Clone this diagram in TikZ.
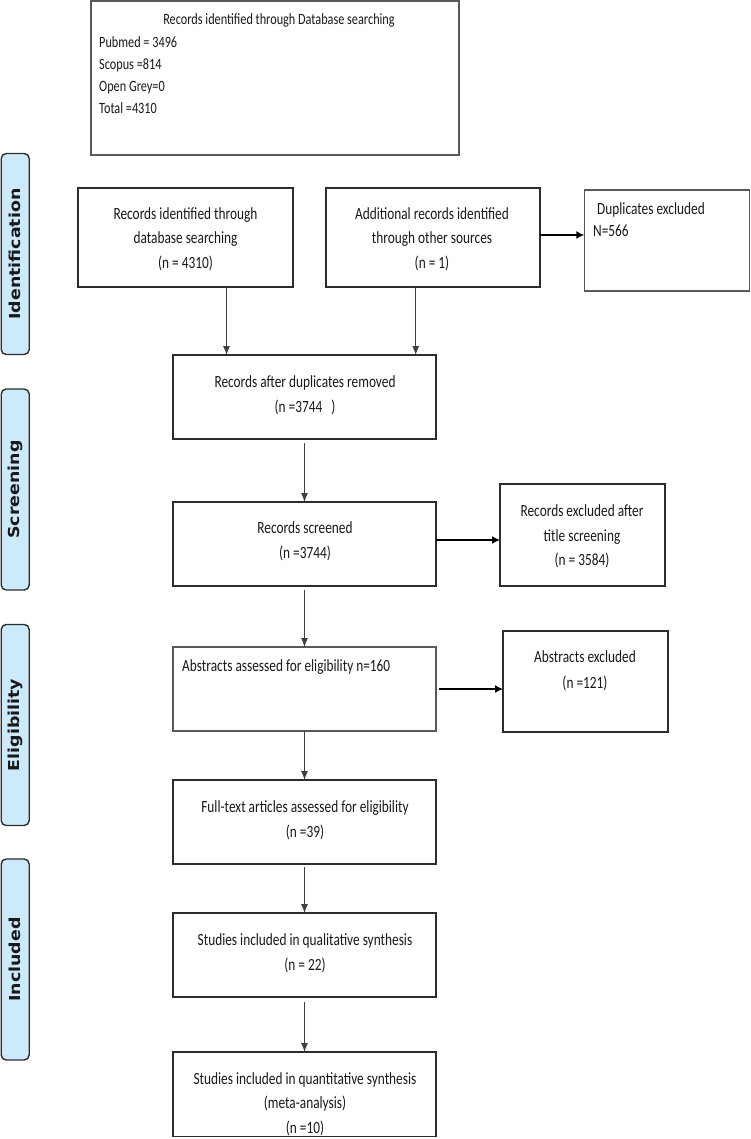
\documentclass[tikz,border=0pt]{standalone}
\usepackage{fontspec}
\setmainfont{Carlito}[FakeStretch=0.78]
\newfontfamily\tabfamily{DejaVu Sans}
\usetikzlibrary{arrows.meta}
\definecolor{tabblue}{RGB}{204,234,252}
\definecolor{ink}{RGB}{25,25,25}
\definecolor{edge}{RGB}{45,45,45}
\begin{document}
\begin{tikzpicture}[x=1pt,y=-1pt,
  box/.style={draw=edge, line width=1.1pt, inner sep=0pt, outer sep=0pt, fill=white},
  tabbox/.style={draw=edge, line width=1.4pt, fill=tabblue, rounded corners=5pt, inner sep=0pt,
    rotate=90, minimum width=201pt, minimum height=28pt,
    font=\tabfamily\bfseries\fontsize{17.4}{20}\selectfont, text=ink},
  tb/.style={inner sep=0pt, anchor=base, text=ink, font=\fontsize{17.1}{24.5}\selectfont},
  tbl/.style={tb, anchor=base west},
  ts/.style={inner sep=0pt, anchor=base, text=ink, font=\fontsize{15.7}{22}\selectfont},
  tsl/.style={ts, anchor=base west},
  varr/.style={draw=black!75, line width=0.9pt, -{Latex[length=9pt,width=7pt]}},
  harr/.style={draw=black, line width=1.4pt, -{Latex[length=8pt,width=8pt]}}
]
\useasboundingbox (0,0) rectangle (751,1139);

% phase tabs
\node[tabbox] (tid) at (15.2,254) {\scalebox{1}[0.87]{Identification}};
\node[tabbox] (tsc) at (15.2,489.5) {\scalebox{1}[0.87]{Screening}};
\node[tabbox] (tel) at (15.2,725) {\scalebox{1}[0.87]{Eligibility}};
\node[tabbox] (tin) at (15.2,959.5) {\scalebox{1}[0.87]{Included}};

% boxes
\node[box, draw=black!65, minimum width=368pt, minimum height=154pt] (top) at (275,78) {};
\node[box, minimum width=215pt, minimum height=99pt] (b1) at (185.5,237.5) {};
\node[box, minimum width=214pt, minimum height=99pt] (b2) at (433,237.5) {};
\node[box, draw=black!65, minimum width=165pt, minimum height=101pt] (dup) at (666.8,240.5) {};
\node[box, minimum width=263pt, minimum height=84pt] (after) at (304.5,397) {};
\node[box, minimum width=263pt, minimum height=84pt] (scr) at (304.5,544) {};
\node[box, minimum width=165pt, minimum height=102pt] (excl) at (582.5,535) {};
\node[box, draw=black!65, minimum width=263pt, minimum height=84pt] (abs) at (304.5,689) {};
\node[box, minimum width=165pt, minimum height=101pt] (excl2) at (585.5,681.5) {};
\node[box, minimum width=263pt, minimum height=84pt] (full) at (304.5,822) {};
\node[box, minimum width=263pt, minimum height=84pt] (qual) at (304.5,955) {};
\node[box, minimum width=263pt, minimum height=84.5pt] (quant) at (304.5,1094.25) {};

% texts
\node[ts] (topt) at (279,25) {Records identified through Database searching};
\node[tsl] (pub) at (99,47.5) {Pubmed = 3496};
\node[tsl] (sco) at (99,69.5) {Scopus =814};
\node[tsl] (ogr) at (99,91.5) {Open Grey=0};
\node[tsl] (tot) at (99,113.5) {Total =4310};

\node[tb] (b1a) at (185.5,219.5) {Records identified through};
\node[tb] (b1b) at (185.5,244) {database searching};
\node[tb] (b1c) at (185.5,268.5) {(n = 4310)};

\node[tb] (b2a) at (432,219.5) {Additional records identified};
\node[tb] (b2b) at (432,244) {through other sources};
\node[tb] (b2c) at (432,268.5) {(n = 1)};

\node[tbl] (dupa) at (597,214.5) {Duplicates excluded};
\node[tbl] (dupb) at (593,237) {N=566};

\node[tb] (afta) at (305,387.5) {Records after duplicates removed};
\node[tb] (aftb) at (305,412.5) {(n =3744\hspace{9pt})};

\node[tb] (scra) at (305,533.5) {Records screened};
\node[tb] (scrb) at (305,558.5) {(n =3744)};

\node[tb] (exa) at (582,516.5) {Records excluded after};
\node[tb] (exb) at (582,541) {title screening};
\node[tb] (exc) at (582,565.5) {(n = 3584)};

\node[tbl] (absa) at (182,671.5) {Abstracts assessed for eligibility n=160};

\node[tb] (ex2a) at (585,662.5) {Abstracts excluded};
\node[tb] (ex2b) at (585,688.5) {(n =121)};

\node[tb] (fula) at (305,812.5) {Full-text articles assessed for eligibility};
\node[tb] (fulb) at (305,837.5) {(n =39)};

\node[tb] (qla) at (305,945.5) {Studies included in qualitative synthesis};
\node[tb] (qlb) at (305,970.5) {(n = 22)};

\node[tb] (qna) at (305,1084) {Studies included in quantitative synthesis};
\node[tb] (qnb) at (305,1108.5) {(meta-analysis)};
\node[tb] (qnc) at (305,1133) {(n =10)};

% connectors
\draw[varr] ([xshift=41pt]b1.south) -- ([xshift=41pt]b1.south |- after.north);
\draw[varr] ([xshift=-17.3pt]b2.south) -- ([xshift=-17.3pt]b2.south |- after.north);
\draw[harr] ([yshift=2.5pt]b2.east) -- ([yshift=2.5pt]b2.east -| dup.west);
\draw[varr, shorten <=4pt] (after.south) -- (scr.north);
\draw[harr] ([yshift=4pt]scr.east) -- ([yshift=4pt]scr.east -| excl.west);
\draw[varr, shorten <=4pt] (scr.south) -- (abs.north);
\draw[harr, shorten <=3pt] (abs.east) -- (abs.east -| excl2.west);
\draw[varr] (abs.south) -- (full.north);
\draw[varr, shorten <=3pt] (full.south) -- (qual.north);
\draw[varr, shorten <=5pt] (qual.south) -- (quant.north);
\end{tikzpicture}
\end{document}
